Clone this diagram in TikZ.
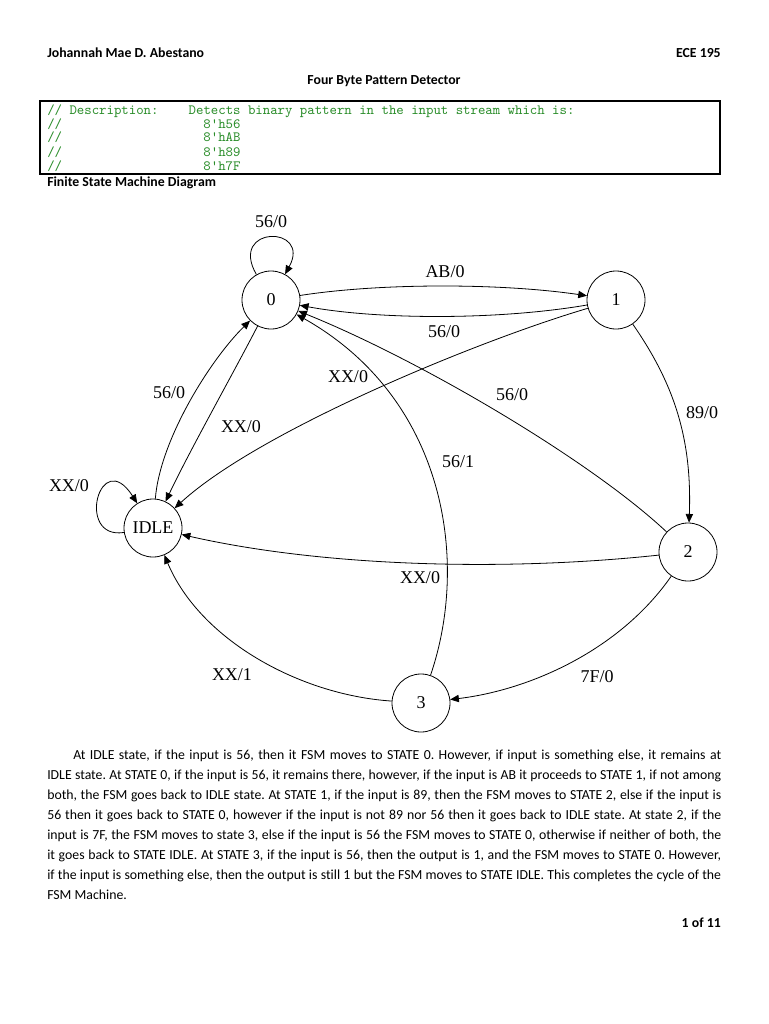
\documentclass[tikz,border=0pt]{standalone}
\usepackage{fontspec}
\setmainfont{Carlito}[Ligatures={TeX,NoCommon}]
\newfontfamily\seriffont{Liberation Serif}
\usetikzlibrary{arrows.meta}
\definecolor{codegreen}{RGB}{40,140,40}
\begin{document}
\frenchspacing
\begin{tikzpicture}[x=0.75pt,y=-0.75pt,
  state/.style={circle,draw,line width=0.6pt,minimum size=43.5pt,inner sep=0pt,font=\seriffont\fontsize{13.5}{16}\selectfont},
  edge/.style={line width=0.6pt,-{Triangle[length=6.5pt,width=5.5pt]}},
  lbl/.style={font=\seriffont\fontsize{13.5}{16}\selectfont,inner sep=0pt},
  hdr/.style={font=\bfseries\fontsize{10.35}{12}\selectfont,inner sep=0pt},
  code/.style={font=\ttfamily\fontsize{10.6}{11}\selectfont,text=codegreen,inner sep=0pt,anchor=base west}]
\useasboundingbox[fill=white] (0,0) rectangle (768,1024);

% header
\node[hdr,anchor=west] (author) at (47,53) {Johannah Mae D. Abestano};
\node[hdr,anchor=east] (course) at (721,53) {ECE 195};
\node[hdr] (title) at (384,81) {Four Byte Pattern Detector};

% code box
\draw[line width=0.8pt] (40,101) rectangle (720,174);
\node[code] (c1a) at (47,114) {// Description:};
\node[code] (c1b) at (188.4,114) {Detects binary pattern in the input stream which is:};
\node[code] (c2a) at (47,128) {//};
\node[code] (c2b) at (203.2,128) {8'h56};
\node[code] (c3a) at (47,142) {//};
\node[code] (c3b) at (203.2,142) {8'hAB};
\node[code] (c4a) at (47,156) {//};
\node[code] (c4b) at (203.2,156) {8'h89};
\node[code] (c5a) at (47,170) {//};
\node[code] (c5b) at (203.2,170) {8'h7F};
\node[hdr,anchor=west] (fsmtitle) at (47,183) {Finite State Machine Diagram};

% states
\node[state] (s0) at (271,300) {0};
\node[state] (s1) at (616,300) {1};
\node[state] (idle) at (153,528) {IDLE};
\node[state] (s2) at (688,552) {2};
\node[state] (s3) at (421,703) {3};

% transitions
\draw[edge] (s0) .. controls (228,225) and (312,225) .. (s0);
\draw[edge] (s0) .. controls (380,283) and (500,283) .. (s1);
\draw[edge] (s1) .. controls (500,320) and (380,320) .. (s0);
\draw[edge] (s1) .. controls (480,340) and (260,430) .. (idle);
\draw[edge] (s2) .. controls (590,460) and (420,360) .. (s0);
\draw[edge] (s3) .. controls (470,560) and (445,398) .. (s0);
\draw[edge] (s0) .. controls (235,370) and (190,450) .. (idle);
\draw[edge] (idle) .. controls (160,440) and (210,360) .. (s0);
\draw[edge] (idle) .. controls (75,540) and (100,445) .. (idle);
\draw[edge] (s2) .. controls (500,572) and (320,566) .. (idle);
\draw[edge] (s1) .. controls (675,385) and (692,440) .. (s2);
\draw[edge] (s2) .. controls (620,650) and (530,690) .. (s3);
\draw[edge] (s3) .. controls (300,695) and (200,640) .. (idle);

% labels
\node[lbl] (l00) at (271,222) {56/0};
\node[lbl] (l01) at (445,272) {AB/0};
\node[lbl] (l10) at (444,332) {56/0};
\node[lbl] (l20) at (512,395) {56/0};
\node[lbl] (l12) at (702,413) {89/0};
\node[lbl] (l30) at (458,462) {56/1};
\node[lbl] (l1i) at (348,377) {XX/0};
\node[lbl] (li0) at (169,393) {56/0};
\node[lbl] (l0i) at (241,427) {XX/0};
\node[lbl] (lii) at (69,486) {XX/0};
\node[lbl] (l2i) at (420,578) {XX/0};
\node[lbl] (l23) at (597,677) {7F/0};
\node[lbl] (l3i) at (232,675) {XX/1};

% paragraph
\node[anchor=north west,text width=505.5pt,inner sep=0pt,align=justify,
      font=\fontsize{10.35}{15}\selectfont] (para) at (47,750)
{\hyphenpenalty=10000\hspace*{19.5pt}At IDLE state, if the input is 56, then it FSM moves to STATE 0. However, if input is something else, it remains at\linebreak
IDLE state. At STATE 0, if the input is 56, it remains there, however, if the input is AB it proceeds to STATE 1, if not among\linebreak
both, the FSM goes back to IDLE state. At STATE 1, if the input is 89, then the FSM moves to STATE 2, else if the input is\linebreak
56 then it goes back to STATE 0, however if the input is not 89 nor 56 then it goes back to IDLE state. At state 2, if the\linebreak
input is 7F, the FSM moves to state 3, else if the input is 56 the FSM moves to STATE 0, otherwise if neither of both, the\linebreak
it goes back to STATE IDLE. At STATE 3, if the input is 56, then the output is 1, and the FSM moves to STATE 0. However,\linebreak
if the input is something else, then the output is still 1 but the FSM moves to STATE IDLE. This completes the cycle of the\linebreak
FSM Machine.};

\node[hdr,anchor=east] (pagenum) at (721,923) {1 of 11};
\end{tikzpicture}
\end{document}
